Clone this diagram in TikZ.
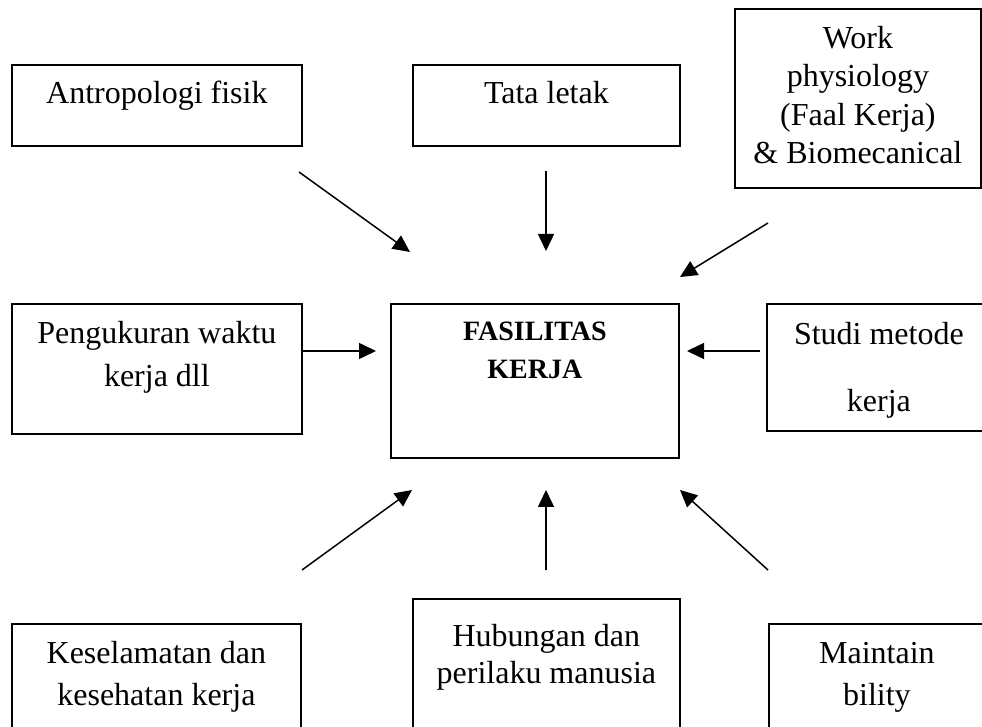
\documentclass[tikz,border=0pt]{standalone}
\usepackage{fontspec}
\setmainfont{Liberation Serif}
\usetikzlibrary{arrows.meta}
\tikzset{
  kotak/.style n args={4}{draw, line width=0.9pt, anchor=north west, align=center, inner sep=0pt,
    minimum width=#1, text height=#2, text depth=#3, font=\fontsize{16}{#4}\selectfont},
  panah/.style={line width=0.75pt, -{Triangle[length=8.5pt,width=8pt]}}
}
\begin{document}
\begin{tikzpicture}[x=0.5pt,y=-0.5pt]
    \useasboundingbox (0,0) rectangle (982,727);
    \clip (0,0) rectangle (982,727);
    \node[kotak={145pt}{19.5pt}{21pt}{19pt}] (antro) at (11,64) {Antropologi fisik};
    \node[kotak={133.5pt}{19.5pt}{21pt}{19pt}] (tata) at (412,64) {Tata letak};
    \node[kotak={123pt}{77.5pt}{12pt}{19.3pt}] (work) at (734,8) {Work\\physiology\\(Faal Kerja)\\\& Biomecanical};
    \node[kotak={145pt}{41.5pt}{23.5pt}{21.5pt}] (ukur) at (11,303) {Pengukuran waktu\\kerja dll};
    \node[kotak={144pt}{37.5pt}{39.5pt}{19pt}, font=\fontsize{14}{19}\selectfont\bfseries] (fasilitas) at (390,303) {FASILITAS\\KERJA};
    \node[kotak={112pt}{54pt}{9.5pt}{33.5pt}] (studi) at (766,303) {Studi metode\\kerja};
    \node[kotak={144.5pt}{41pt}{19pt}{21pt}] (k3) at (11,623) {Keselamatan dan\\kesehatan kerja};
    \node[kotak={133.5pt}{42.5pt}{27.5pt}{18.5pt}] (hubungan) at (412,598) {Hubungan dan\\perilaku manusia};
    \node[kotak={108pt}{41pt}{19pt}{21pt}] (maint) at (768,623) {Maintain\\bility};
    \coordinate (p1a) at (299,172);  \coordinate (p1b) at (410,252);
    \coordinate (p2a) at (546,171);  \coordinate (p2b) at (546,251);
    \coordinate (p3a) at (768,223);  \coordinate (p3b) at (680,277);
    \coordinate (p4a) at (302,351);  \coordinate (p4b) at (376,351);
    \coordinate (p5a) at (760,351);  \coordinate (p5b) at (687,351);
    \coordinate (p6a) at (302,570);  \coordinate (p6b) at (412,490);
    \coordinate (p7a) at (546,570);  \coordinate (p7b) at (546,490);
    \coordinate (p8a) at (768,570);  \coordinate (p8b) at (680,490);
    \foreach \i in {1,...,8}
      \draw[panah] (p\i a) -- (p\i b);
\end{tikzpicture}
\end{document}
